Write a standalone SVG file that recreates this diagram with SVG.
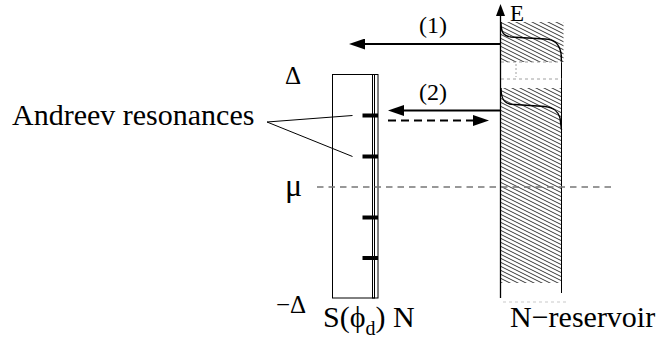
<svg xmlns="http://www.w3.org/2000/svg" width="658" height="340" viewBox="0 0 658 340">
<style>
text{font-family:Liberation Serif, Times New Roman, serif;fill:#000}
.thin{stroke:#000;stroke-width:1;fill:none}
.arr{stroke:#000;stroke-width:2;fill:none}
.bar{fill:#000}
.dot{stroke:#888;stroke-width:0.8;stroke-dasharray:3 3;fill:none}
.curve{stroke:#000;stroke-width:1.4;fill:none}
</style>
<defs>
<pattern id="hatch" patternUnits="userSpaceOnUse" width="8" height="4">
<line x1="-8" y1="-4" x2="16" y2="8" stroke="#111" stroke-width="0.85"/>
<line x1="-8" y1="0" x2="8" y2="8" stroke="#111" stroke-width="0.85"/>
<line x1="0" y1="-4" x2="16" y2="4" stroke="#111" stroke-width="0.85"/>
</pattern>
<marker id="ah" markerUnits="userSpaceOnUse" markerWidth="16" markerHeight="11" refX="3" refY="5.5" orient="auto" viewBox="0 0 16 11">
<path d="M0,0 L16,5.5 L0,11 Z" fill="#000"/>
</marker>
<marker id="axh" markerUnits="userSpaceOnUse" markerWidth="12" markerHeight="9" refX="2" refY="4.5" orient="auto" viewBox="0 0 12 9">
<path d="M0,0 L12,4.5 L0,9 Z" fill="#000"/>
</marker>
</defs>

<g id="reservoir">
<rect x="500.5" y="22" width="63" height="40" fill="url(#hatch)"/>
<rect x="500.5" y="88" width="61.5" height="195" fill="url(#hatch)"/>
<path class="curve" d="M501,22 C501,32 503,36 511,37 L545,39 C555,39.5 559,44 561,53 L561.5,62"/>
<path class="curve" d="M501,88 C501,97 503,103 511,104.3 L545,106.5 C554,107.5 558,111 560,118 L561.5,130"/>
<line class="thin" x1="561.5" y1="55" x2="561.5" y2="293"/>
<line class="dot" x1="501" y1="62" x2="562" y2="62"/>
<line class="dot" x1="501" y1="79" x2="562" y2="79"/>
<line class="dot" x1="516" y1="64" x2="516" y2="77" style="stroke-dasharray:2 2"/>
<line class="dot" x1="503" y1="302" x2="566" y2="302" style="stroke:#bbb"/>
<text x="510" y="327" font-size="30">N−reservoir</text>
</g>

<g id="axis">
<line x1="500.5" y1="298" x2="500.5" y2="14" stroke="#000" stroke-width="1.3" marker-end="url(#axh)"/>
<text x="510" y="20.5" font-size="23">E</text>
</g>

<g id="sn-junction">
<rect class="thin" x="332.5" y="74.5" width="42" height="223.5"/>
<rect class="thin" x="372.5" y="74.5" width="5.5" height="223.5"/>
<rect class="bar" x="362.5" y="113.5" width="15.5" height="4"/>
<rect class="bar" x="362.5" y="154.5" width="15.5" height="4"/>
<rect class="bar" x="362.5" y="215.5" width="15.5" height="4"/>
<rect class="bar" x="362.5" y="256" width="15.5" height="4"/>
<text x="323" y="327" font-size="30">S(ϕ<tspan font-size="20" dy="8">d</tspan><tspan dy="-8">) N</tspan></text>
</g>

<g id="labels">
<text x="285" y="84" font-size="25">Δ</text>
<text x="285" y="196" font-size="32">μ</text>
<text x="276" y="313" font-size="25">−Δ</text>
<text x="12" y="125" font-size="30">Andreev resonances</text>
<text x="419" y="33" font-size="24">(1)</text>
<text x="419" y="100" font-size="24">(2)</text>
</g>

<g id="connectors">
<line class="thin" x1="267" y1="122" x2="352.5" y2="115.5"/>
<line class="thin" x1="267" y1="122" x2="352.5" y2="156.5"/>
<line x1="317" y1="187" x2="612" y2="187" stroke="#777" stroke-width="1.3" stroke-dasharray="6.5 5"/>
<line class="arr" x1="500" y1="44" x2="362" y2="44" marker-end="url(#ah)"/>
<line class="arr" x1="500" y1="110.5" x2="401" y2="110.5" marker-end="url(#ah)"/>
<line class="arr" x1="388" y1="120.5" x2="476" y2="120.5" stroke-dasharray="8 5" marker-end="url(#ah)"/>
</g>
</svg>
